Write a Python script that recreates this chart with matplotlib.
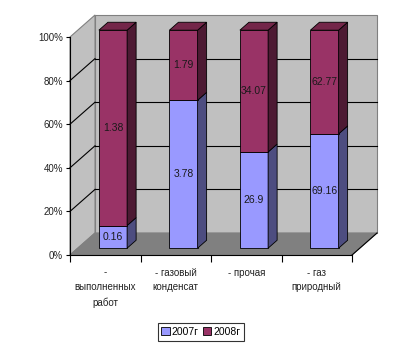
import matplotlib.pyplot as plt

plt.rcParams['font.family'] = ['Liberation Sans', 'DejaVu Sans']

# data
categories = ["-\nвыполненных\nработ", "- газовый\nконденсат", "- прочая", "- газ\nприродный"]
vals_2007 = [0.16, 3.78, 26.9, 69.16]
vals_2008 = [1.38, 1.79, 34.07, 62.77]
series_names = ["2007г", "2008г"]
y_ticks = [0, 20, 40, 60, 80, 100]

# colours (front, side, top)
c07 = ("#9999FF", "#4D4D80", "#7373BF")
c08 = ("#993366", "#4D1A33", "#732649")

# 3d look: depth offset of the back wall, in data units
DX, DY = 0.355, 10.1
f1, f2 = 0.31, 0.67
w = 0.4

fig = plt.figure(figsize=(4.05, 3.53), dpi=100)
ax = fig.add_axes([70/405, 98/353, 282/405, 218/353])
ax.set_xlim(-0.5, 3.5)
ax.set_ylim(0, 100)
ax.patch.set_visible(False)

x0, x1 = -0.5, len(categories) - 0.5

# walls and floor
ax.fill([x0+DX, x1+DX, x1+DX, x0+DX], [DY, DY, 100+DY, 100+DY],
        fc="#C0C0C0", ec="#808080", lw=0.8, clip_on=False, zorder=0.5)
ax.fill([x0, x0+DX, x0+DX, x0], [0, DY, 100+DY, 100],
        fc="#C0C0C0", ec="#808080", lw=0.8, clip_on=False, zorder=0.5)
ax.fill([x0, x1, x1+DX, x0+DX], [0, 0, DY, DY],
        fc="#808080", ec="#808080", lw=0.8, clip_on=False, zorder=0.6)
ax.plot([x1, x1+DX], [0, DY], color="black", lw=0.8, clip_on=False, zorder=0.7)

for v in y_ticks[1:-1]:
    ax.plot([x0+DX, x1+DX], [v+DY, v+DY], color="black", lw=0.8, clip_on=False, zorder=0.7)
    ax.plot([x0, x0+DX], [v, v+DY], color="black", lw=0.8, clip_on=False, zorder=0.7)

# stacked 100% bars
for i in range(len(categories)):
    total = vals_2007[i] + vals_2008[i]
    p07 = vals_2007[i] / total * 100
    segs = [(0, p07, vals_2007[i], c07), (p07, 100, vals_2008[i], c08)]
    xc = i + f1*DX
    for k, (b, t, val, col) in enumerate(segs):
        ax.bar(xc, t - b, bottom=b + f1*DY, width=w, color=col[0],
               edgecolor="black", lw=0.6, zorder=3, clip_on=False)
        xr = xc + w/2
        d = f2 - f1
        ax.fill([xr, xr + d*DX, xr + d*DX, xr],
                [b + f1*DY, b + f2*DY, t + f2*DY, t + f1*DY],
                fc=col[1], ec="black", lw=0.6, zorder=3, clip_on=False)
        if k == 1:
            xl = xc - w/2
            ax.fill([xl, xr, xr + d*DX, xl + d*DX],
                    [t + f1*DY, t + f1*DY, t + f2*DY, t + f2*DY],
                    fc=col[2], ec="black", lw=0.6, zorder=3, clip_on=False)
        ax.text(xc, (b + t)/2 + f1*DY, f"{val:g}", ha="center", va="center",
                fontsize=7.5, color="#1a1a1a", zorder=4)

# axes
for s in ["top", "right"]:
    ax.spines[s].set_visible(False)
for s in ["left", "bottom"]:
    ax.spines[s].set_color("black")
    ax.spines[s].set_linewidth(0.8)

ax.set_yticks(y_ticks)
ax.set_yticklabels([f"{v}%" for v in y_ticks])
ax.tick_params(axis="y", length=3, width=0.8, pad=2, labelsize=7, labelcolor="#222222")

ax.set_xticks([x0 + k for k in range(len(categories) + 1)])
ax.set_xticklabels([])
ax.tick_params(axis="x", which="major", length=5, width=0.8)
ax.set_xticks(range(len(categories)), minor=True)
ax.set_xticklabels(categories, minor=True)
ax.tick_params(axis="x", which="minor", length=0, pad=9, labelsize=7, labelcolor="#222222")
plt.setp(ax.get_xticklabels(minor=True), linespacing=1.6)

# legend
h07 = plt.Rectangle((0, 0), 1, 1, fc=c07[0], ec="black", lw=0.6)
h08 = plt.Rectangle((0, 0), 1, 1, fc=c08[0], ec="black", lw=0.6)
leg = fig.legend([h07, h08], series_names, loc="center", bbox_to_anchor=(201/405, 1 - 332/353),
                 ncol=2, fontsize=7.5, handlelength=0.8, handleheight=0.8, handletextpad=0.2,
                 columnspacing=0.4, borderpad=0.35, fancybox=False, frameon=True)
leg.get_frame().set_edgecolor("black")
leg.get_frame().set_linewidth(0.8)

plt.savefig("out.png", dpi=100)
plt.close()
